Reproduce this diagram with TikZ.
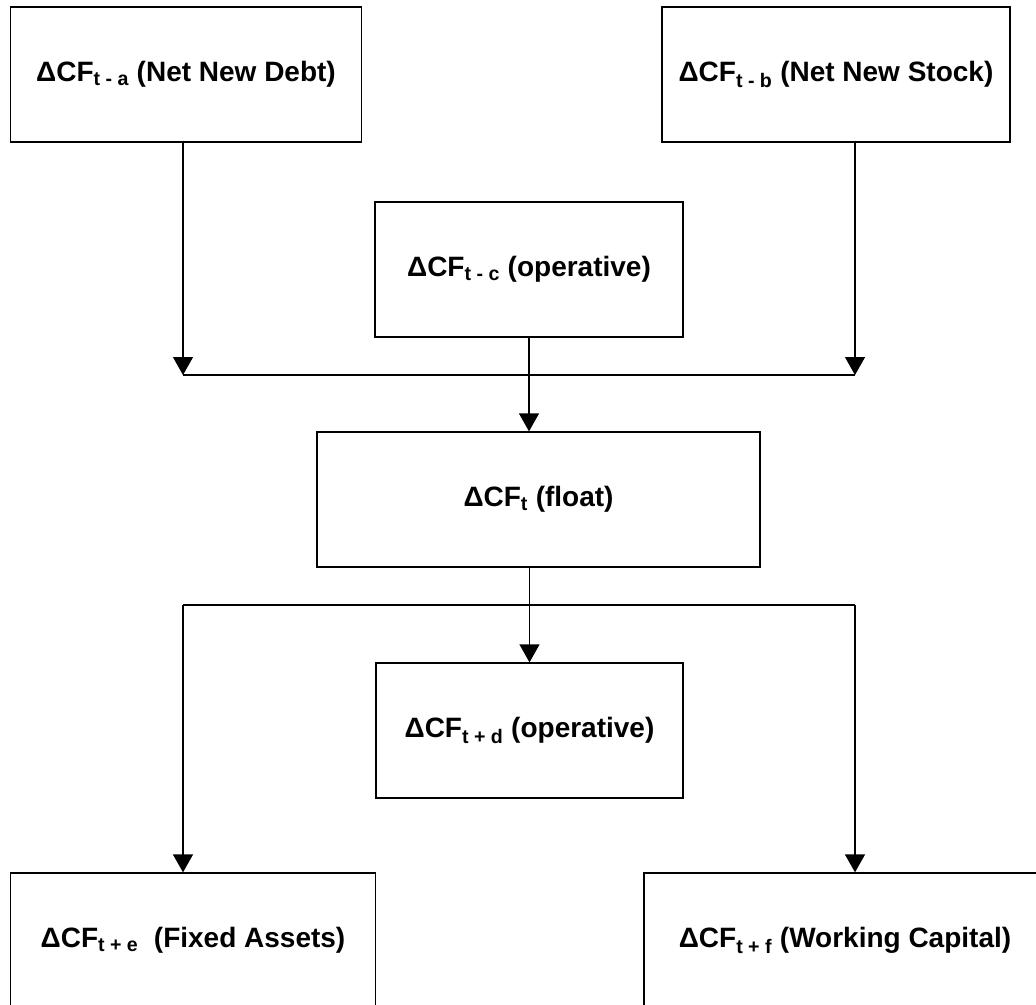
\documentclass[tikz,border=0pt]{standalone}
\usepackage{fontspec}
\setmainfont{Liberation Sans}
\usetikzlibrary{arrows.meta, positioning}
\tikzset{
Flow/.style={
	draw, rectangle,
	line width=1.3pt,
	align=center,
	font=\fontsize{28}{32}\selectfont\bfseries,
	minimum height=135pt
},
Line/.style={
	draw=black,
	line width=1.3pt
},
Arrow/.style={
	Line,
	-{Triangle[width=20pt, length=18pt]}
}
}

\begin{document}
\begin{tikzpicture}[x=1pt, y=-1pt]
	\clip (0,0) rectangle (1036,1004);

	\node[Flow, minimum width=351pt] (debt) at (186,74.5) {ΔCF\textsubscript{t - a} (Net New Debt)};
	\node[Flow, minimum width=348pt] (stock) at (836,74.5) {ΔCF\textsubscript{t - b} (Net New Stock)};
	\node[Flow, minimum width=308pt] (opin) at (529,269.5) {ΔCF\textsubscript{t - c} (operative)};
	\node[Flow, minimum width=443pt] (float) at (538.5,499.5) {ΔCF\textsubscript{t} (float)};
	\node[Flow, minimum width=307pt] (opout) at (529.5,730.5) {ΔCF\textsubscript{t + d} (operative)};
	\node[Flow, minimum width=365pt] (fixed) at (193,940.5) {ΔCF\textsubscript{t + e}\ \ (Fixed Assets)};
	\node[Flow, minimum width=402pt] (working) at (845,940.5) {ΔCF\textsubscript{t + f} (Working Capital)};

	\coordinate (mergeL) at (183,375);
	\coordinate (mergeR) at (855,375);
	\coordinate (splitL) at (183,605);
	\coordinate (splitR) at (855,605);

	\draw[Arrow] (mergeL |- debt.south) -- (mergeL);
	\draw[Arrow] (mergeR |- stock.south) -- (mergeR);
	\draw[Line] (mergeL) -- (mergeR);
	\draw[Arrow] (opin.south) -- (opin.south |- float.north);

	\draw[Arrow] (opout.north |- float.south) -- (opout.north);
	\draw[Line] (splitL) -- (splitR);
	\draw[Arrow] (splitL) -- (splitL |- fixed.north);
	\draw[Arrow] (splitR) -- (splitR |- working.north);
\end{tikzpicture}
\end{document}
